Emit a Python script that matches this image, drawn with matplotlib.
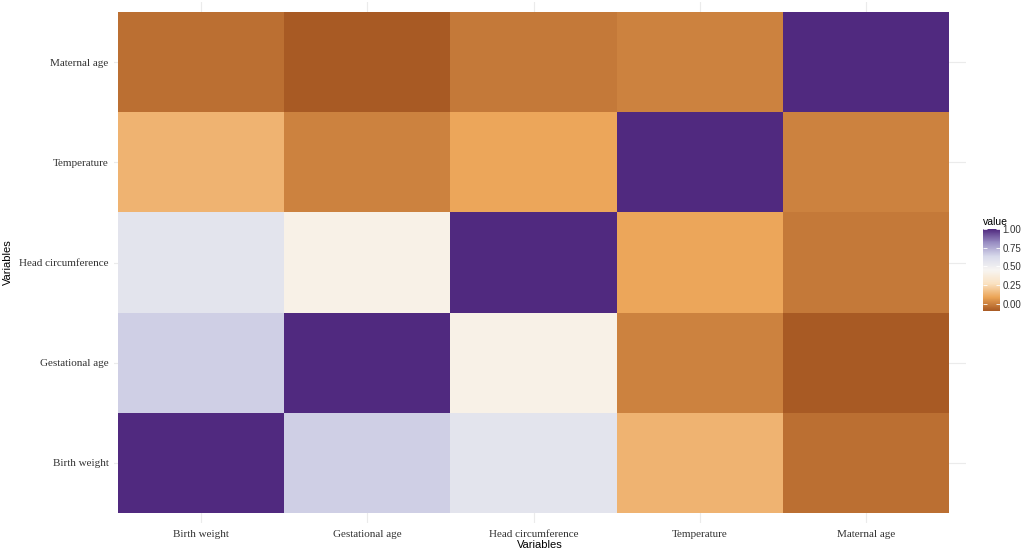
import numpy as np
import matplotlib
matplotlib.use('Agg')
import matplotlib.pyplot as plt
from matplotlib.colors import LinearSegmentedColormap

# data: correlation matrix, rows/cols in this order
variables = ['Birth weight', 'Gestational age', 'Head circumference', 'Temperature', 'Maternal age']
bw = [1.00, 0.66, 0.57, 0.13, -0.045]
ga = [0.66, 1.00, 0.41, 0.00, -0.10]
hc = [0.57, 0.41, 1.00, 0.09, -0.02]
temp = [0.13, 0.00, 0.09, 1.00, 0.00]
ma = [-0.045, -0.10, -0.02, 0.00, 1.00]
cbar_ticks = [0.00, 0.25, 0.50, 0.75, 1.00]

corr = np.array([bw, ga, hc, temp, ma])
n = len(variables)

# PuOr-like ramp, low = brown, high = purple (slightly muted like the original)
puor = ['#a85a24', '#eba456', '#fae2c2', '#f7f5f2', '#d8daeb', '#998ec3', '#50297f']
cmap = LinearSegmentedColormap.from_list('puor', puor)
vmin, vmax = corr.min(), corr.max()

fig = plt.figure(figsize=(10.26, 5.5), dpi=100)
W, H = 1026, 550
ax = fig.add_axes([114 / W, 1 - 523 / H, (966 - 114) / W, (523 - 2) / H])

# grid below tiles
for k in range(1, n + 1):
    ax.axvline(k, color='#ebebeb', lw=0.8, zorder=0)
    ax.axhline(k, color='#ebebeb', lw=0.8, zorder=0)

x = np.arange(0.5, n + 1.5)
mesh = ax.pcolormesh(x, x, corr, cmap=cmap, vmin=vmin, vmax=vmax, zorder=1)

ax.set_xlim(0.476, 5.602)
ax.set_ylim(0.40, 5.60)
ax.set_xticks(range(1, n + 1))
ax.set_yticks(range(1, n + 1))
ax.set_xticklabels(variables, family='Liberation Serif', fontsize=8, color='#333333')
ax.set_yticklabels(variables, family='Liberation Serif', fontsize=8, color='#333333')
ax.tick_params(axis='x', length=0, pad=5)
ax.tick_params(axis='y', length=0, pad=4)
for s in ax.spines.values():
    s.set_visible(False)
ax.set_xlabel('Variables', family='Liberation Sans', fontsize=8, labelpad=1)
ax.set_ylabel('Variables', family='Liberation Sans', fontsize=8, labelpad=4)

# colourbar
cax = fig.add_axes([983 / W, 1 - 311 / H, 17 / W, 82 / H])
cb = fig.colorbar(mesh, cax=cax, ticks=cbar_ticks)
cb.outline.set_visible(False)
cb.ax.set_yticklabels(['%.2f' % t for t in cbar_ticks], family='Liberation Sans',
                      fontsize=7, color='#333333')
cb.ax.tick_params(length=3, width=0.6, color='white', direction='in', pad=2, left=True)
cb.ax.set_title('value', family='Liberation Sans', fontsize=7.5, loc='left', pad=3)

plt.savefig('out.png', dpi=100, facecolor='white')
